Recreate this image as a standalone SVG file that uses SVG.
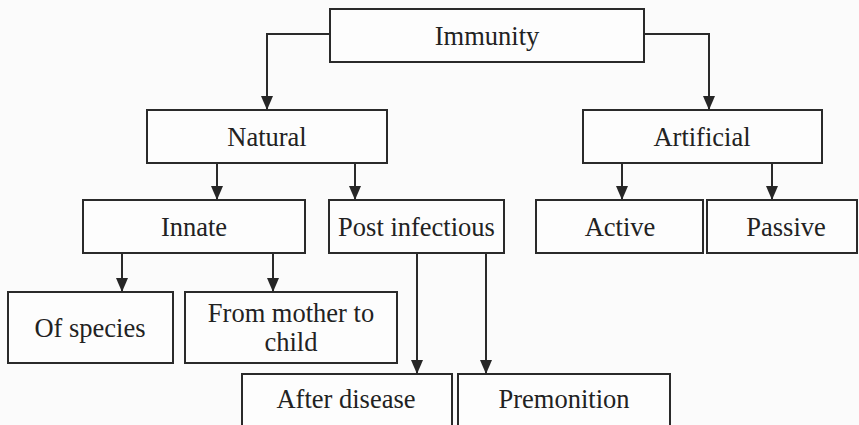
<svg xmlns="http://www.w3.org/2000/svg" width="859" height="425" viewBox="0 0 859 425">
  <defs>
    <marker id="arrow" viewBox="0 0 14 12" refX="14" refY="6" markerWidth="14" markerHeight="12" markerUnits="userSpaceOnUse" orient="auto">
      <path d="M0,0 L14,6 L0,12 Z" fill="#262626"/>
    </marker>
    <style>
      .box { fill: #fdfdfd; stroke: #2a2a2a; stroke-width: 2; }
      .lbl { font-family: "Liberation Serif", "DejaVu Serif", "Times New Roman", serif; font-size: 26.5px; fill: #222; text-anchor: middle; }
      .conn { fill: none; stroke: #2a2a2a; stroke-width: 2; }
    </style>
  </defs>
  <rect x="0" y="0" width="859" height="425" fill="#fbfbfb"/>

  <g id="connectors">
    <path class="conn" d="M330,34 H267 V110" marker-end="url(#arrow)"/>
    <path class="conn" d="M644,34 H709 V110" marker-end="url(#arrow)"/>
    <path class="conn" d="M217,163 V200" marker-end="url(#arrow)"/>
    <path class="conn" d="M355,163 V200" marker-end="url(#arrow)"/>
    <path class="conn" d="M622,163 V200" marker-end="url(#arrow)"/>
    <path class="conn" d="M772,163 V200" marker-end="url(#arrow)"/>
    <path class="conn" d="M122,253 V292" marker-end="url(#arrow)"/>
    <path class="conn" d="M273,253 V292" marker-end="url(#arrow)"/>
    <path class="conn" d="M417,253 V374" marker-end="url(#arrow)"/>
    <path class="conn" d="M486,253 V374" marker-end="url(#arrow)"/>
  </g>

  <g id="immunity">
    <rect class="box" x="330" y="9" width="314" height="53"/>
    <text class="lbl" x="487" y="45" font-family="Liberation Serif, serif">Immunity</text>
  </g>
  <g id="natural">
    <rect class="box" x="147" y="110" width="240" height="53"/>
    <text class="lbl" x="267" y="146" font-family="Liberation Serif, serif">Natural</text>
  </g>
  <g id="artificial">
    <rect class="box" x="583" y="110" width="239" height="53"/>
    <text class="lbl" x="702" y="146" font-family="Liberation Serif, serif">Artificial</text>
  </g>
  <g id="innate">
    <rect class="box" x="83" y="200" width="222" height="53"/>
    <text class="lbl" x="194" y="236" font-family="Liberation Serif, serif">Innate</text>
  </g>
  <g id="post-infectious">
    <rect class="box" x="329" y="200" width="175" height="53"/>
    <text class="lbl" x="416.5" y="236" font-family="Liberation Serif, serif">Post infectious</text>
  </g>
  <g id="active">
    <rect class="box" x="536" y="200" width="167" height="53"/>
    <text class="lbl" x="620" y="236" font-family="Liberation Serif, serif">Active</text>
  </g>
  <g id="passive">
    <rect class="box" x="707" y="200" width="150" height="53"/>
    <text class="lbl" x="786" y="236" font-family="Liberation Serif, serif">Passive</text>
  </g>
  <g id="of-species">
    <rect class="box" x="8" y="292" width="165" height="71"/>
    <text class="lbl" x="90" y="337" font-family="Liberation Serif, serif">Of species</text>
  </g>
  <g id="from-mother-to-child">
    <rect class="box" x="185" y="292" width="212" height="71"/>
    <text class="lbl" x="291" y="322" font-family="Liberation Serif, serif">From mother to</text>
    <text class="lbl" x="291" y="351" font-family="Liberation Serif, serif">child</text>
  </g>
  <g id="after-disease">
    <rect class="box" x="242" y="374" width="210" height="70"/>
    <text class="lbl" x="346" y="408" font-family="Liberation Serif, serif">After disease</text>
  </g>
  <g id="premonition">
    <rect class="box" x="458" y="374" width="212" height="70"/>
    <text class="lbl" x="564" y="408" font-family="Liberation Serif, serif">Premonition</text>
  </g>
</svg>
